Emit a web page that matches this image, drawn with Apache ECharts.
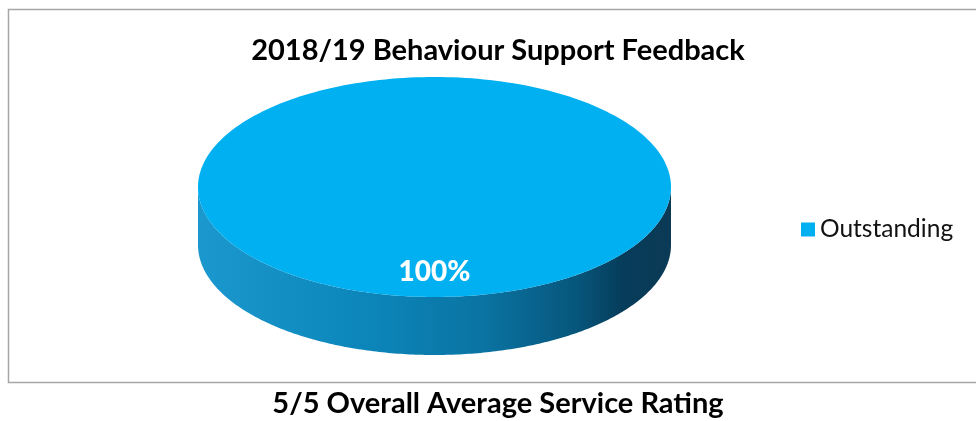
<!DOCTYPE html>
<html>
<head>
<meta charset="utf-8">
<script src="https://cdn.jsdelivr.net/npm/echarts@6/dist/echarts.min.js"></script>
<style>
html,body{margin:0;padding:0;background:#fff;}
#chart{width:976px;height:421px;}
</style>
</head>
<body>
<div id="chart"></div>
<script>
// ---- data ----
const categories = ['Outstanding'];
const values = [100];
const chartTitle = '2018/19 Behaviour Support Feedback';
const footerText = '5/5 Overall Average Service Rating';

// ---- layout / style ----
const FONT = 'Lato, "Open Sans", sans-serif';
const PIE = { cx: 434.5, cy: 187, rx: 236.5, ry: 110, depth: 58, labelFrac: 0.77 };
const COLOR = '#00B0F0';

const total = values.reduce((a, b) => a + b, 0);

function pt(theta, dy) {
  return [PIE.cx + PIE.rx * Math.sin(theta), PIE.cy - PIE.ry * Math.cos(theta) + (dy || 0)];
}

function renderItem(params, api) {
  const idx = params.dataIndex;
  let before = 0;
  for (let i = 0; i < idx; i++) before += values[i];
  const v = api.value(1);
  const a0 = before / total * Math.PI * 2;
  const a1 = (before + v) / total * Math.PI * 2;
  const full = (a1 - a0) >= Math.PI * 2 - 1e-9;
  const N = 240;
  const children = [];

  // side face: visible part (front half of the ellipse)
  const s0 = Math.max(a0, Math.PI / 2), s1 = Math.min(a1, Math.PI * 1.5);
  if (s1 > s0) {
    const topArc = [], botArc = [];
    for (let k = 0; k <= N; k++) {
      const t = s0 + (s1 - s0) * k / N;
      topArc.push(pt(t, 0));
      botArc.push(pt(t, PIE.depth));
    }
    children.push({
      type: 'polygon',
      shape: { points: topArc.concat(botArc.reverse()) },
      style: {
        fill: {
          type: 'linear', x: 0, y: 0, x2: 1, y2: 0,
          colorStops: [
            { offset: 0, color: '#1b98ce' },
            { offset: 0.35, color: '#0c86ba' },
            { offset: 0.6, color: '#0a74a3' },
            { offset: 0.8, color: '#07567c' },
            { offset: 0.9, color: '#063c5a' },
            { offset: 1, color: '#0b3a55' }
          ]
        }
      },
      silent: true
    });
  }

  // top face
  const top = [];
  for (let k = 0; k <= N; k++) top.push(pt(a0 + (a1 - a0) * k / N, 0));
  if (!full) top.push([PIE.cx, PIE.cy]);
  children.push({
    type: 'polygon',
    shape: { points: top },
    style: { fill: api.visual('color') }
  });

  // label at mid-angle
  const mid = (a0 + a1) / 2;
  const lp = [PIE.cx + PIE.rx * PIE.labelFrac * Math.sin(mid), PIE.cy - PIE.ry * PIE.labelFrac * Math.cos(mid)];
  children.push({
    type: 'text',
    x: lp[0], y: lp[1],
    style: {
      text: Math.round(v / total * 100) + '%',
      fill: '#ffffff',
      font: '900 28px ' + FONT,
      align: 'center',
      verticalAlign: 'middle'
    },
    silent: true
  });
  return { type: 'group', children: children };
}

const chart = echarts.init(document.getElementById('chart'), null, { renderer: 'canvas' });
chart.setOption({
  backgroundColor: '#ffffff',
  animation: false,
  title: [
    {
      text: chartTitle, left: 498, top: 36, textAlign: 'center', padding: 0,
      textStyle: { fontFamily: FONT, fontWeight: 'bold', fontSize: 29, color: '#000' }
    },
    {
      text: footerText, left: 498, top: 389, textAlign: 'center', padding: 0,
      textStyle: { fontFamily: FONT, fontWeight: 'bold', fontSize: 29, color: '#000' }
    }
  ],
  legend: {
    data: categories,
    left: 801, top: 217, padding: 0,
    orient: 'vertical',
    icon: 'rect', itemWidth: 14, itemHeight: 14,
    textStyle: { fontFamily: FONT, fontSize: 24.5, color: '#111' }
  },
  graphic: [
    {
      type: 'rect', z: -10,
      shape: { x: 8.5, y: 9.5, width: 990, height: 373 },
      style: { fill: 'none', stroke: '#a6a6a6', lineWidth: 1.5 }
    }
  ],
  series: [
    {
      type: 'custom',
      name: categories[0],
      coordinateSystem: 'none',
      itemStyle: { color: COLOR },
      renderItem: renderItem,
      data: categories.map((c, i) => ({ name: c, value: [i, values[i]] }))
    }
  ]
});
</script>
</body>
</html>
